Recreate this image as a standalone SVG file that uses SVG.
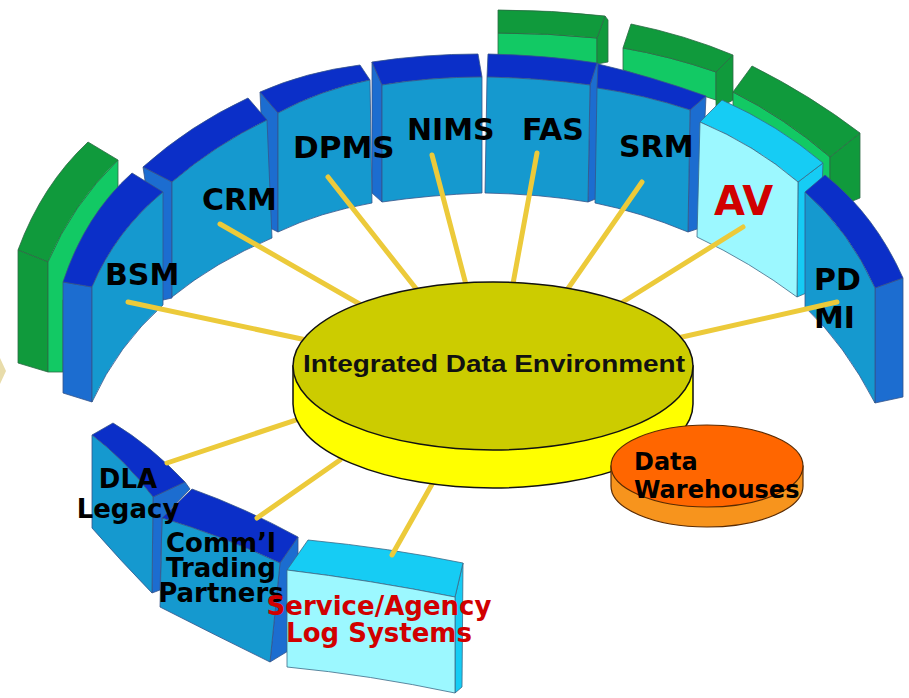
<svg xmlns="http://www.w3.org/2000/svg" width="909" height="698" viewBox="0 0 909 698">
<style>
.tb{fill:#0b2fc8;stroke:#35548a;stroke-width:0.8}
.fb{fill:#1599cf;stroke:#35548a;stroke-width:0.8}
.sb{fill:#1c6dd0;stroke:#35548a;stroke-width:0.8}
.tg{fill:#109a3c;stroke:#2d6a45;stroke-width:0.8}
.fg{fill:#12c964;stroke:#2d6a45;stroke-width:0.8}
.tc{fill:#16ccf4;stroke:#3a6a88;stroke-width:0.8}
.fc{fill:#9cf8ff;stroke:#3a6a88;stroke-width:0.8}
.lb{font-family:"DejaVu Sans","Liberation Sans",sans-serif;font-weight:bold;font-size:30px;fill:#000}
.sm{font-size:26px}
.s40{font-size:40px}
.s24{font-size:24px}
.red{fill:#d10000}
.ln{stroke:#ecca3a;stroke-width:5;stroke-linecap:round;fill:none}
</style>
<rect width="909" height="698" fill="#fff"/>
<polygon points="0,358 6,371 0,384" fill="#e8dcaa"/>

<g id="green-left">
<path class="tg" d="M18,250 Q42,185 88,142 L118,160 Q72,205 48,262 Z"/>
<path class="tg" d="M18,250 L48,262 L48,372 L18,363 Z"/>
<path class="fg" d="M48,262 Q72,205 118,160 L118,230 L63,300 L63,372 L48,372 Z"/>
</g>
<g id="green-1">
<path class="fg" d="M498,33 Q548,33 597,38 L597,64 L498,56 Z"/>
<path class="tg" d="M605,16 L608,20 L608,62 L597,64 L597,38 Z"/>
<path class="tg" d="M498,10 Q552,10 605,16 L597,38 Q548,33 498,33 Z"/>
</g>
<g id="green-2">
<path class="fg" d="M623,48 Q670,56 716,72 L716,100 L623,70 Z"/>
<path class="tg" d="M716,72 L733,55 L733,100 L716,110 Z"/>
<path class="tg" d="M623,48 L631,24 Q685,35 733,55 L716,72 Q670,56 623,48 Z"/>
</g>
<g id="green-3">
<path class="fg" d="M733,92 Q785,118 830,157 L830,185 L733,120 Z"/>
<path class="tg" d="M830,157 L860,133 L860,198 L830,210 Z"/>
<path class="tg" d="M733,92 L752,66 Q810,95 860,133 L830,157 Q785,118 733,92 Z"/>
</g>

<g id="fas">
<path class="sb" d="M597,63 L603,67 L598,198 L588,202 L590,85 Z"/>
<path class="tb" d="M488,54 Q545,55 597,63 L590,85 Q540,78 487,77 Z"/>
<path class="fb" d="M487,77 Q540,78 590,85 L588,202 Q540,194 485,193 Z"/>
<text class="lb" x="522" y="140">FAS</text>
</g>
<g id="nims">
<path class="sb" d="M372,62 L382,85 L382,202 L372,193 Z"/>
<path class="tb" d="M372,62 Q425,54 478,54 L482,77 Q430,77 382,85 Z"/>
<path class="fb" d="M382,85 Q430,77 482,77 L482,193 Q430,195 382,202 Z"/>
<text class="lb" x="407" y="140">NIMS</text>
</g>
<g id="dpms">
<path class="sb" d="M260,92 L278,113 L278,232 L266,226 Z"/>
<path class="tb" d="M260,92 Q305,72 360,65 L370,80 Q320,90 278,113 Z"/>
<path class="fb" d="M278,113 Q320,90 370,80 L372,203 Q320,212 278,232 Z"/>
<text class="lb" x="293" y="158" style="font-size:31px">DPMS</text>
</g>
<g id="srm">
<path class="sb" d="M690,110 L706,96 L700,228 L688,232 Z"/>
<path class="tb" d="M598,64 Q650,76 706,96 L690,110 Q645,95 597,88 Z"/>
<path class="fb" d="M597,88 Q645,95 690,110 L688,232 Q640,212 595,203 Z"/>
<text class="lb" x="619" y="157">SRM</text>
</g>
<g id="crm">
<path class="sb" d="M143,167 L172,182 L172,298 L163,300 Z"/>
<path class="tb" d="M143,167 Q190,125 248,98 L267,120 Q215,145 172,182 Z"/>
<path class="fb" d="M172,182 Q215,145 267,120 L272,238 Q215,262 172,297 Z"/>
<text class="lb" x="202" y="210">CRM</text>
</g>
<g id="av">
<path class="tc" d="M798,182 L823,163 L818,288 L797,297 Z"/>
<path class="tc" d="M700,122 L722,100 Q778,125 823,163 L798,182 Q755,145 700,122 Z"/>
<path class="fc" d="M700,122 Q755,145 798,182 L797,297 Q750,262 697,237 Z"/>
<text class="lb red s40" x="714" y="215">AV</text>
</g>
<g id="bsm">
<path class="sb" d="M63,282 L92,287 L92,402 L63,393 Z"/>
<path class="tb" d="M63,282 Q85,215 132,173 L163,192 Q115,232 92,287 Z"/>
<path class="fb" d="M92,287 Q115,232 163,192 L163,305 Q118,345 92,402 Z"/>
<text class="lb" x="105" y="285">BSM</text>
</g>
<g id="pdmi">
<path class="sb" d="M875,288 L903,278 L903,397 L875,403 Z"/>
<path class="tb" d="M805,192 L825,175 Q875,215 903,278 L875,288 Q850,232 805,192 Z"/>
<path class="fb" d="M805,192 Q850,232 875,288 L875,403 Q845,345 805,307 Z"/>
<text class="lb" x="814" y="290">PD</text>
<text class="lb" x="814" y="328">MI</text>
</g>
<g id="comml">
<path class="sb" d="M280,563 L298,537 L298,645 L270,662 Z"/>
<path class="tb" d="M162,518 L192,489 Q245,508 298,537 L280,563 Q220,535 162,518 Z"/>
<path class="fb" d="M162,518 Q220,535 280,563 L270,662 Q215,635 160,607 Z"/>
<text class="lb sm" x="221" y="552" text-anchor="middle">Comm’l</text>
<text class="lb sm" x="221" y="577" text-anchor="middle">Trading</text>
<text class="lb sm" x="221" y="602" text-anchor="middle">Partners</text>
</g>
<g id="dla">
<path class="sb" d="M153,497 L185,482 L190,489 L162,518 L160,590 L152,593 Z"/>
<path class="tb" d="M92,435 L113,423 Q150,445 185,482 L153,497 Q125,460 92,435 Z"/>
<path class="fb" d="M92,435 Q125,460 153,497 L152,593 Q120,560 92,528 Z"/>
<text class="lb sm" x="128" y="488" text-anchor="middle">DLA</text>
<text class="lb sm" x="128" y="518" text-anchor="middle">Legacy</text>
</g>
<g id="service">
<path class="tc" d="M455,597 L463,563 L462,687 L455,693 Z"/>
<path class="tc" d="M287,570 L308,540 Q390,548 463,563 L455,597 Q370,580 287,570 Z"/>
<path class="fc" d="M287,570 Q370,580 455,597 L455,693 Q370,675 287,667 Z"/>
<text class="lb sm red" x="379" y="615" text-anchor="middle">Service/Agency</text>
<text class="lb sm red" x="379" y="642" text-anchor="middle">Log Systems</text>
</g>

<g id="connectors">
<line class="ln" x1="128" y1="302" x2="330" y2="345"/>
<line class="ln" x1="220" y1="224" x2="370" y2="310"/>
<line class="ln" x1="328" y1="177" x2="425" y2="300"/>
<line class="ln" x1="432" y1="155" x2="470" y2="300"/>
<line class="ln" x1="537" y1="153" x2="510" y2="300"/>
<line class="ln" x1="642" y1="182" x2="560" y2="300"/>
<line class="ln" x1="743" y1="227" x2="610" y2="310"/>
<line class="ln" x1="837" y1="302" x2="660" y2="342"/>
<line class="ln" x1="167" y1="463" x2="320" y2="412"/>
<line class="ln" x1="257" y1="518" x2="340" y2="460"/>
<line class="ln" x1="392" y1="555" x2="440" y2="470"/>
</g>

<g id="ide">
<path d="M293,366 L293,404 A200,84 0 0 0 693,404 L693,366 Z" fill="#ffff00" stroke="#111" stroke-width="1.5"/>
<ellipse cx="493" cy="366" rx="200" ry="84" fill="#cccc00" stroke="#111" stroke-width="1.5"/>
<text x="494" y="372" text-anchor="middle" font-family="'Liberation Sans',Arial,sans-serif" font-weight="bold" font-size="24" textLength="382" lengthAdjust="spacingAndGlyphs" fill="#111">Integrated Data Environment</text>
</g>
<g id="dw">
<path d="M611,466 L611,486 A96,41 0 0 0 803,486 L803,466 Z" fill="#f7941d" stroke="#5a2a00" stroke-width="1.2"/>
<ellipse cx="707" cy="466" rx="96" ry="41" fill="#ff6600" stroke="#5a2a00" stroke-width="1.2"/>
<text class="lb s24" x="634" y="470">Data</text>
<text class="lb s24" x="634" y="498">Warehouses</text>
</g>
</svg>
